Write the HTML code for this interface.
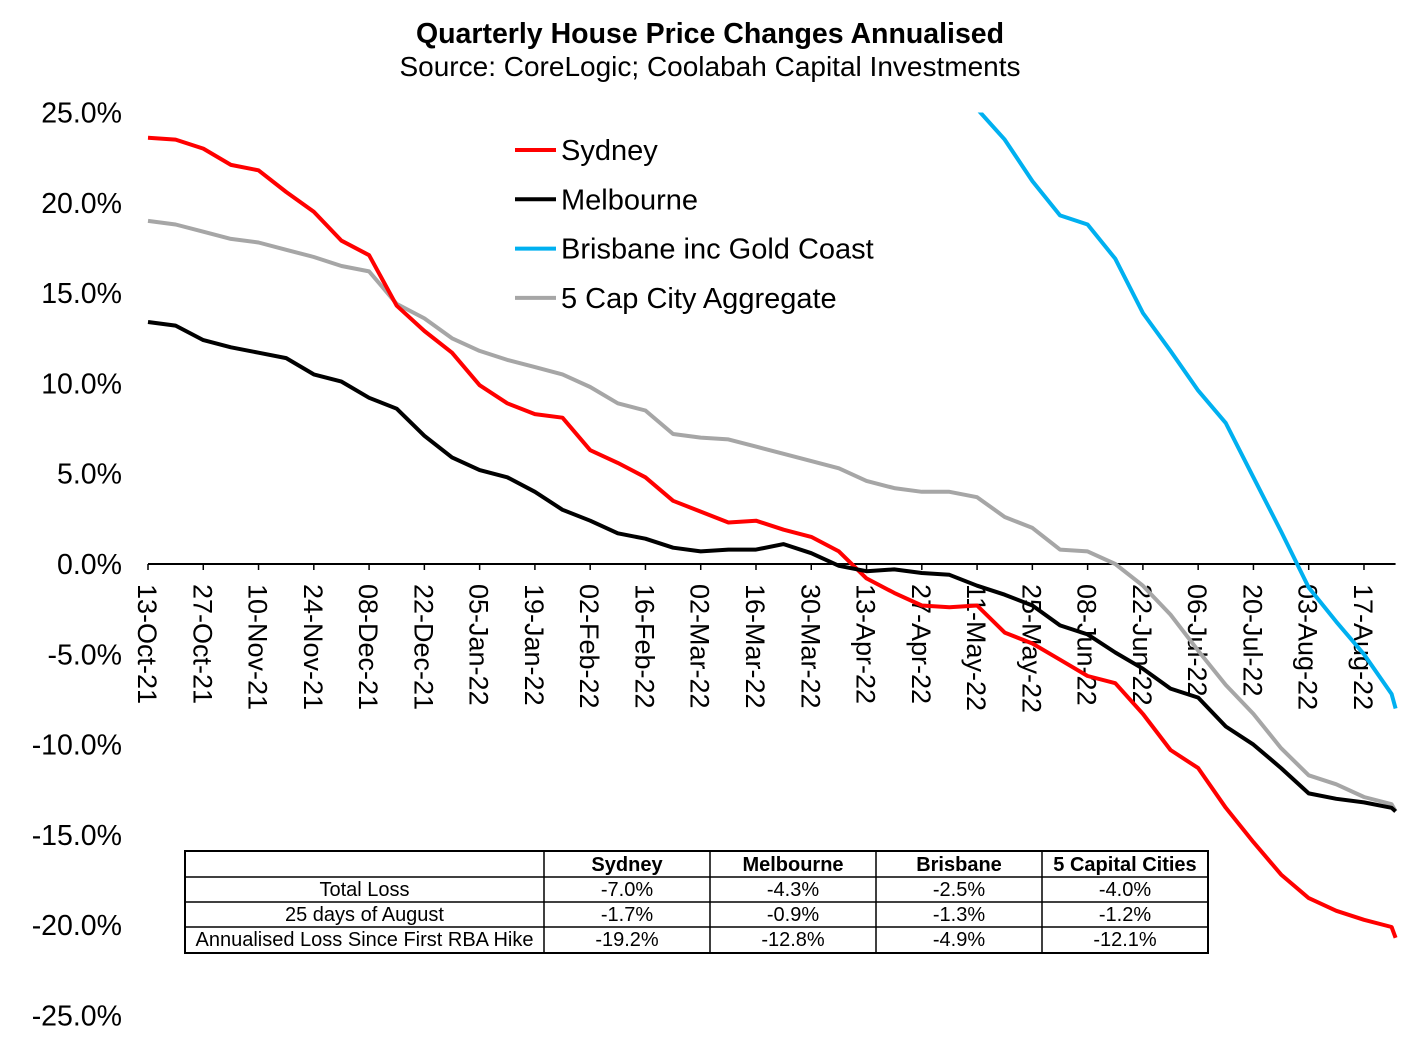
<!DOCTYPE html>
<html><head><meta charset="utf-8">
<style>
body{margin:0;background:#fff;}
svg text{font-family:"Liberation Sans",Arial,sans-serif;}
</style></head>
<body>
<svg id="chart" width="1422" height="1033" xmlns="http://www.w3.org/2000/svg">
<text x="710" y="43" text-anchor="middle" font-size="28.5" font-weight="bold">Quarterly House Price Changes Annualised</text>
<text x="710" y="76" text-anchor="middle" font-size="28">Source: CoreLogic; Coolabah Capital Investments</text>
<g id="yaxis"></g>
<g id="xaxis"></g>
<g id="series"></g>
<g id="legend"></g>
<g id="table"></g>
</svg>
<script>
const NS="http://www.w3.org/2000/svg";
const days=[0,7,14,21,28,35,42,49,56,63,70,77,84,91,98,105,112,119,126,133,140,147,154,161,168,175,182,189,196,203,210,217,224,231,238,245,252,259,266,273,280,287,294,301,308,315,316];
const sydney=[23.6,23.5,23.0,22.1,21.8,20.6,19.5,17.9,17.1,14.3,12.9,11.7,9.9,8.9,8.3,8.1,6.3,5.6,4.8,3.5,2.9,2.3,2.4,1.9,1.5,0.7,-0.8,-1.6,-2.3,-2.4,-2.3,-3.8,-4.4,-5.3,-6.2,-6.6,-8.3,-10.3,-11.3,-13.5,-15.4,-17.2,-18.5,-19.2,-19.7,-20.1,-20.7];
const melbourne=[13.4,13.2,12.4,12.0,11.7,11.4,10.5,10.1,9.2,8.6,7.1,5.9,5.2,4.8,4.0,3.0,2.4,1.7,1.4,0.9,0.7,0.8,0.8,1.1,0.6,-0.1,-0.4,-0.3,-0.5,-0.6,-1.2,-1.7,-2.3,-3.4,-3.9,-4.9,-5.8,-6.9,-7.4,-9.0,-10.0,-11.3,-12.7,-13.0,-13.2,-13.5,-13.7];
const brisbane=[null,null,null,null,null,null,null,null,null,null,null,null,null,null,null,null,null,null,null,null,null,null,null,null,null,null,null,null,null,null,25.2,23.5,21.2,19.3,18.8,16.9,13.9,11.8,9.6,7.8,4.8,1.8,-1.3,-3.2,-5.0,-7.2,-8.0];
const capCity=[19.0,18.8,18.4,18.0,17.8,17.4,17.0,16.5,16.2,14.4,13.6,12.5,11.8,11.3,10.9,10.5,9.8,8.9,8.5,7.2,7.0,6.9,6.5,6.1,5.7,5.3,4.6,4.2,4.0,4.0,3.7,2.6,2.0,0.8,0.7,0.0,-1.2,-2.8,-4.8,-6.7,-8.3,-10.2,-11.7,-12.2,-12.9,-13.3,-13.7];
const yTicks=[25,20,15,10,5,0,-5,-10,-15,-20,-25];
const xTickDays=[0,14,28,42,56,70,84,98,112,126,140,154,168,182,196,210,224,238,252,266,280,294,308];
const xTickLabels=["13-Oct-21","27-Oct-21","10-Nov-21","24-Nov-21","08-Dec-21","22-Dec-21","05-Jan-22","19-Jan-22","02-Feb-22","16-Feb-22","02-Mar-22","16-Mar-22","30-Mar-22","13-Apr-22","27-Apr-22","11-May-22","25-May-22","08-Jun-22","22-Jun-22","06-Jul-22","20-Jul-22","03-Aug-22","17-Aug-22"];
const seriesNames=["Sydney","Melbourne","Brisbane inc Gold Coast","5 Cap City Aggregate"];
const tableHead=["","Sydney","Melbourne","Brisbane","5 Capital Cities"];
const tableRows=[["Total Loss","-7.0%","-4.3%","-2.5%","-4.0%"],["25 days of August","-1.7%","-0.9%","-1.3%","-1.2%"],["Annualised Loss Since First RBA Hike","-19.2%","-12.8%","-4.9%","-12.1%"]];

const x=d=>148+d*3.948;
const y=v=>564-v*90.3/5;
function mk(tag,attrs,parent){const e=document.createElementNS(NS,tag);for(const k in attrs)e.setAttribute(k,attrs[k]);parent.appendChild(e);return e;}
const yg=document.getElementById('yaxis');
yTicks.forEach(v=>{const t=mk('text',{x:122,y:y(v)+10,'text-anchor':'end','font-size':28.5},yg);t.textContent=v.toFixed(1)+'%';

});
const xg=document.getElementById('xaxis');
const ax=mk('line',{x1:x(0),x2:x(316),y1:y(0),y2:y(0),stroke:'#000','stroke-width':2},xg);


xTickDays.forEach((d,i)=>{const tk=mk('line',{x1:x(d),x2:x(d),y1:y(0),y2:y(0)+6,stroke:'#000','stroke-width':1.5},xg);


const t=mk('text',{x:0,y:0,'font-size':27,transform:`translate(${x(d)-10},${y(0)+20}) rotate(90)`},xg);t.textContent=xTickLabels[i];

});
const sg=document.getElementById('series');
const cp=mk('clipPath',{id:'clip'},sg);mk('rect',{x:100,y:y(25),width:1320,height:y(-25)-y(25)},cp);
const cols=['#ff0000','#000000','#00b0f0','#a6a6a6'];
const data=[sydney,melbourne,brisbane,capCity];
const order=[3,2,0,1];
order.forEach(si=>{let d='';let pen=false;data[si].forEach((v,i)=>{if(v===null){pen=false;return;}d+=(pen?'L':'M')+x(days[i]).toFixed(1)+','+y(v).toFixed(1);pen=true;});
const p=mk('path',{d:d,fill:'none',stroke:cols[si],'stroke-width':4,'stroke-linejoin':'round','clip-path':'url(#clip)'},sg);

});
const lg=document.getElementById('legend');
seriesNames.forEach((n,i)=>{const ly=150+i*49.3;
const l=mk('line',{x1:515,x2:556,y1:ly,y2:ly,stroke:cols[i],'stroke-width':4},lg);


const t=mk('text',{x:561,y:ly+10,'font-size':29},lg);t.textContent=n;

});
const tg=document.getElementById('table');
const colX=[185,544,710,876,1042,1208];const rowY=[851,877,902,927,953];
mk('rect',{x:185,y:851,width:1023,height:102,fill:'#fff',stroke:'#000','stroke-width':2},tg);
rowY.slice(1,4).forEach(r=>mk('line',{x1:185,x2:1208,y1:r,y2:r,stroke:'#000','stroke-width':1.5},tg));
colX.slice(1,5).forEach(c=>mk('line',{x1:c,x2:c,y1:851,y2:953,stroke:'#000','stroke-width':1.5},tg));
tableHead.forEach((h,j)=>{if(!h)return;const t=mk('text',{x:(colX[j]+colX[j+1])/2,y:871,'text-anchor':'middle','font-size':20,'font-weight':'bold'},tg);t.textContent=h;

});
tableRows.forEach((r,i)=>r.forEach((c,j)=>{const t=mk('text',{x:(colX[j]+colX[j+1])/2,y:rowY[i+1]+19,'text-anchor':'middle','font-size':20},tg);t.textContent=c;

}));
</script>
</body></html>
